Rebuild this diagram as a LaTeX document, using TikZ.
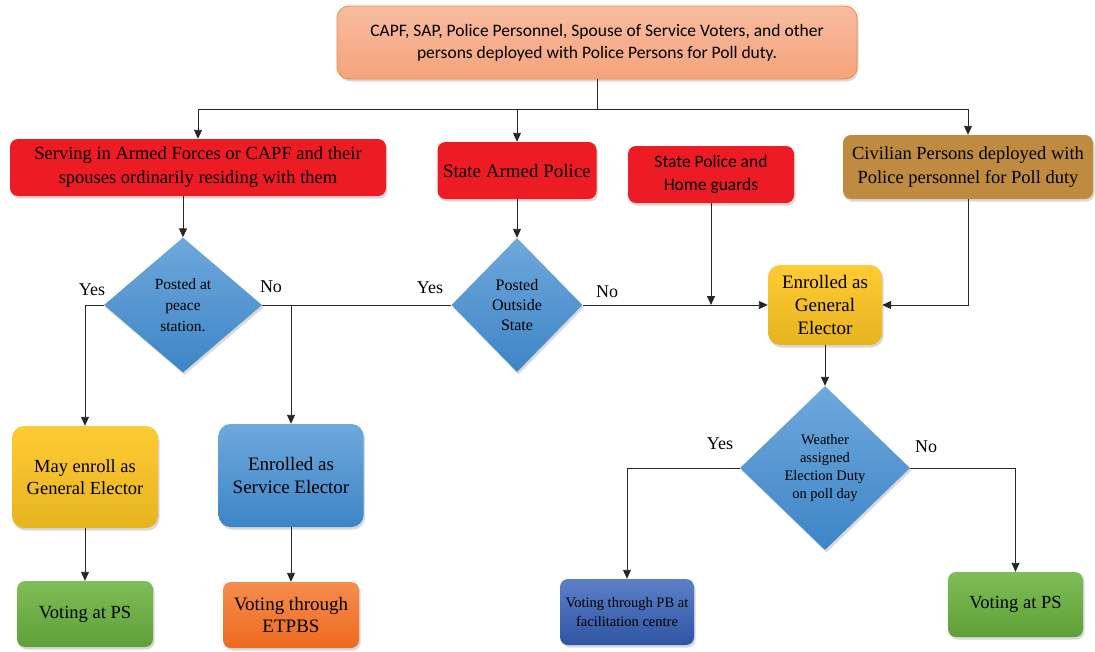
\documentclass[tikz,border=0pt]{standalone}
\usepackage{fontspec}
\setmainfont{Liberation Serif}
\newfontfamily\calibri{Carlito}
\usetikzlibrary{shapes.geometric,arrows.meta,shadows}
\definecolor{pollred}{HTML}{ED1C24}
\definecolor{civbrown}{HTML}{BF8B40}
\definecolor{salmontop}{HTML}{F8BCA0}
\definecolor{salmonbot}{HTML}{F4A37C}
\definecolor{salmonline}{HTML}{F08A3C}
\definecolor{yellowtop}{HTML}{FFCB35}
\definecolor{yellowbot}{HTML}{E6B41F}
\definecolor{bluetop}{HTML}{6FA8DC}
\definecolor{bluebot}{HTML}{3D85C6}
\definecolor{greentop}{HTML}{7FBE56}
\definecolor{greenbot}{HTML}{5E9F38}
\definecolor{orangetop}{HTML}{F58D4E}
\definecolor{orangebot}{HTML}{EE6A1E}
\definecolor{navytop}{HTML}{5C80C8}
\definecolor{navybot}{HTML}{2F54A3}
\tikzset{
  box/.style={rounded corners=8pt, inner sep=0pt, align=center,
    drop shadow={shadow xshift=1.5pt, shadow yshift=-2.5pt, opacity=0.3}},
  redbox/.style={box, fill=pollred},
  yellowbox/.style={box, rounded corners=12pt, top color=yellowtop, bottom color=yellowbot},
  bluebox/.style={box, rounded corners=12pt, top color=bluetop, bottom color=bluebot},
  greenbox/.style={box, top color=greentop, bottom color=greenbot},
  decision/.style={diamond, aspect=1, inner sep=0pt, align=center,
    top color=bluetop, bottom color=bluebot,
    drop shadow={shadow xshift=1.5pt, shadow yshift=-2.5pt, opacity=0.3}},
  lbl/.style={font=\fontsize{18}{20}\selectfont},
  arr/.style={-{Triangle[length=9pt,width=8pt]}, line width=0.9pt, black!85}
}
\begin{document}
\begin{tikzpicture}[x=1pt, y=-1pt, font=\fontsize{18.5}{23}\selectfont]
  \useasboundingbox (0,0) rectangle (1095,651);
  \node[box, rounded corners=12pt, top color=salmontop, bottom color=salmonbot, draw=salmonline, line width=0.8pt,
        minimum width=520pt, minimum height=73pt, font=\calibri\fontsize{17.5}{22}\selectfont] (top) at (597,42.5)
    {CAPF, SAP, Police Personnel, Spouse of Service Voters, and other\\persons deployed with Police Persons for Poll duty.};
  \node[redbox, minimum width=376pt, minimum height=57pt, font=\fontsize{18.5}{24}\selectfont] (serve) at (198,167.5)
    {Serving in Armed Forces or CAPF and their\\spouses ordinarily residing with them};
  \node[redbox, minimum width=159pt, minimum height=57pt, font=\fontsize{19}{23}\selectfont] (sap) at (517,170.5)
    {State Armed Police};
  \node[redbox, minimum width=166pt, minimum height=57pt, font=\calibri\fontsize{17.5}{23}\selectfont] (sp) at (711,174.5)
    {State Police and\\Home guards};
  \node[box, fill=civbrown, minimum width=250pt, minimum height=64pt, font=\fontsize{18.5}{24}\selectfont] (civ) at (968,167)
    {Civilian Persons deployed with\\Police personnel for Poll duty};
  \node[decision, minimum width=158pt, minimum height=135pt, font=\fontsize{15.5}{21}\selectfont] (peace) at (183,305)
    {Posted at\\peace\\station.};
  \node[decision, minimum width=131pt, minimum height=134pt, font=\fontsize{16}{20}\selectfont] (outside) at (517,305)
    {Posted\\Outside\\State};
  \node[yellowbox, minimum width=114pt, minimum height=80pt, font=\fontsize{19}{23}\selectfont] (ge) at (825,305)
    {Enrolled as\\General\\Elector};
  \node[decision, minimum width=170pt, minimum height=164pt, font=\fontsize{14.5}{18}\selectfont] (weather) at (825,468)
    {Weather\\assigned\\Election Duty\\on poll day};
  \node[yellowbox, minimum width=146pt, minimum height=102pt, font=\fontsize{18.5}{22}\selectfont] (may) at (85,477)
    {May enroll as\\General Elector};
  \node[bluebox, minimum width=145pt, minimum height=103pt, font=\fontsize{19}{23}\selectfont] (service) at (291,475.5)
    {Enrolled as\\Service Elector};
  \node[greenbox, minimum width=136pt, minimum height=66pt] (ps) at (85,614)
    {Voting at PS};
  \node[box, top color=orangetop, bottom color=orangebot, minimum width=136pt, minimum height=66pt,
        font=\fontsize{19}{22}\selectfont] (etpbs) at (291,615)
    {Voting through\\ETPBS};
  \node[box, top color=navytop, bottom color=navybot, minimum width=134pt, minimum height=66pt,
        font=\fontsize{14.5}{19}\selectfont] (pb) at (627,612)
    {Voting through PB at\\facilitation centre};
  \node[greenbox, minimum width=135pt, minimum height=65pt] (psright) at (1015.5,604.5)
    {Voting at PS};
  \node[lbl] (yespeace) at (92,290) {Yes};
  \node[lbl] (nopeace) at (271,287) {No};
  \node[lbl] (yesoutside) at (430,288) {Yes};
  \node[lbl] (nooutside) at (607,292) {No};
  \node[lbl] (yesweather) at (720,444) {Yes};
  \node[lbl] (noweather) at (926,447) {No};
  \coordinate (split) at (597,109);
  \begin{scope}[arr]
    \draw[-] (top.south) -- (split);
    \draw (split) -| (serve.north);
    \draw (split) -| (sap.north);
    \draw (split) -| (civ.north);
    \draw (serve.south -| peace.north) -- (peace.north);
    \draw (sap.south) -- (outside.north);
    \draw (peace.west) -| (may.north);
    \draw (peace.east) -| (service.north);
    \draw[-] (outside.west) -- (outside.west -| service.north);
    \draw (outside.east) -- (ge.west);
    \draw (sp.south) -- (sp.south |- ge.west);
    \draw (civ.south) |- (ge.east);
    \draw (ge.south) -- (weather.north);
    \draw (weather.west) -| (pb.north);
    \draw (weather.east) -| (psright.north);
    \draw (may.south) -- (ps.north);
    \draw (service.south) -- (etpbs.north);
  \end{scope}
\end{tikzpicture}
\end{document}
